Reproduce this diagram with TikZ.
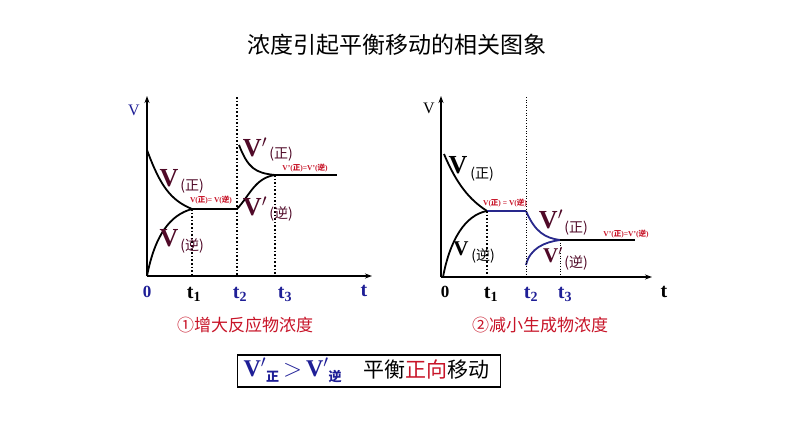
\documentclass[tikz,border=0pt]{standalone}
\usepackage{fontspec}
\setmainfont{Liberation Serif}
\newfontfamily\cjk{Noto Sans CJK SC}
\usetikzlibrary{arrows.meta}
\definecolor{mar}{RGB}{80,10,40}
\definecolor{nv}{RGB}{30,30,150}
\definecolor{rd}{RGB}{200,20,40}
\definecolor{bc}{RGB}{40,40,140}
\newcommand{\zh}[1]{{\cjk #1}}
\tikzset{ax/.style={line width=1.6pt,-{Stealth[length=7pt,width=5pt]}},
 cv/.style={line width=1.8pt},
 dt/.style={line width=1.6pt,dotted},
 dtt/.style={line width=0.6pt,dotted},
 tl/.style={font=\fontsize{20}{20}\selectfont\bfseries},
 bigv/.style={text=mar,font=\fontsize{26}{26}\selectfont\bfseries},
 sub/.style={text=mar,font=\fontsize{14}{14}\selectfont\cjk},
 sm/.style={text=rd,inner sep=0pt,font=\fontsize{7.5}{7.5}\selectfont\bfseries}}
\begin{document}
\begin{tikzpicture}[x=1pt,y=-1pt]
\useasboundingbox[fill=white](0,0) rectangle (794,447);
\node[font=\fontsize{23}{23}\selectfont\cjk] (title) at (397,45) {浓度引起平衡移动的相关图象};
% left graph
\coordinate (lo) at (147,276);
\coordinate (ly) at (147,96);
\coordinate (lx) at (372,276);
\draw[ax] (lo) -- (ly);
\draw[ax] (lo) -- (lx);
\coordinate (a1) at (192,209); \coordinate (a2) at (237,209);
\coordinate (a3) at (275,175); \coordinate (a4) at (337,175);
\coordinate (lb1) at (192,276); \coordinate (lb2) at (237,276); \coordinate (lb3) at (275,276);
\coordinate (lt2) at (237,97);
\draw[cv] (147,150) .. controls (160,185) and (170,200) .. (a1);
\draw[cv] (147,276) .. controls (155,235) and (170,215) .. (a1);
\draw[cv] (a1) -- (a2);
\draw[cv] (239,145) .. controls (248,168) and (255,173) .. (a3);
\draw[cv] (a2) .. controls (250,195) and (255,178) .. (a3);
\draw[cv] (a3) -- (a4);
\draw[dt] (a1) -- (lb1);
\draw[dt] (lt2) -- (lb2);
\draw[dt] (a3) -- (lb3);
\node[font=\fontsize{16}{16}\selectfont,text=nv] (lv) at (134,110) {V};
\node[tl,text=nv,font=\fontsize{17}{17}\selectfont\bfseries] (l0) at (147,292) {0};
\node[tl] (l1) at (194,294) {t\textsubscript{1}};
\node[tl,text=nv] (l2) at (240,294) {t\textsubscript{2}};
\node[tl,text=nv] (l3) at (285,294) {t\textsubscript{3}};
\node[tl,text=nv] (lt) at (364,291) {t};
\node[bigv] (v1) at (169,178) {V}; \node[sub] (v1s) at (192,186) {(正)};
\node[bigv] (v2) at (169,238) {V}; \node[sub] (v2s) at (192,246) {(逆)};
\node[sm] (e1) at (211,200) {V(\zh{正})= V(\zh{逆})};
\node[bigv] (v3) at (255,147) {V$'$}; \node[sub] (v3s) at (281,154) {(正)};
\node[bigv] (v4) at (255,206) {V$'$}; \node[sub] (v4s) at (281,214) {(逆)};
\node[sm] (e2) at (305,168) {V'(\zh{正})=V'(\zh{逆})};
\node[text=rd,font=\fontsize{17}{17}\selectfont\cjk] (c1) at (245,325) {①增大反应物浓度};
% right graph
\coordinate (ro) at (441,277);
\coordinate (ry) at (441,96);
\coordinate (rx) at (652,277);
\draw[ax] (ro) -- (ry);
\draw[ax] (ro) -- (rx);
\coordinate (b1) at (487,211); \coordinate (b2) at (526,211);
\coordinate (b3) at (560,240); \coordinate (b4) at (635,240);
\coordinate (rb1) at (487,277); \coordinate (rb2) at (526,277); \coordinate (rb3) at (560,277);
\coordinate (rt2) at (526,97);
\draw[cv] (444,154) .. controls (457,185) and (470,200) .. (b1);
\draw[cv] (443,277) .. controls (450,240) and (465,215) .. (b1);
\draw[cv,bc] (b1) -- (b2);
\draw[cv,bc] (b2) .. controls (535,232) and (545,238) .. (b3);
\draw[cv,bc] (526,265) .. controls (530,248) and (545,242) .. (b3);
\draw[cv] (b3) -- (b4);
\draw[dt] (b1) -- (rb1);
\draw[dtt] (rt2) -- (rb2);
\draw[dtt] (b3) -- (rb3);
\node[font=\fontsize{16}{16}\selectfont] (rv) at (429,108) {V};
\node[tl,font=\fontsize{17}{17}\selectfont\bfseries] (r0) at (445,292) {0};
\node[tl] (r1) at (491,294) {t\textsubscript{1}};
\node[tl,text=nv] (r2) at (531,294) {t\textsubscript{2}};
\node[tl,text=nv] (r3) at (565,294) {t\textsubscript{3}};
\node[tl] (rt) at (664,292) {t};
\node[bigv,text=black] (w1) at (458,165) {V}; \node[sub,text=black] (w1s) at (482,174) {(正)};
\node[bigv,text=black,font=\fontsize{21}{21}\selectfont\bfseries] (w2) at (461,249) {V}; \node[sub,text=black] (w2s) at (483,256) {(逆)};
\node[sm] (f1) at (505,203) {V(\zh{正}) = V(\zh{逆})};
\node[bigv] (w3) at (551,219) {V$'$}; \node[sub] (w3s) at (576,228) {(正)};
\node[bigv,font=\fontsize{21}{21}\selectfont\bfseries] (w4) at (553,255) {V$'$}; \node[sub] (w4s) at (576,263) {(逆)};
\node[sm] (f2) at (626,234) {V'(\zh{正})=V'(\zh{逆})};
\node[text=rd,font=\fontsize{17}{17}\selectfont\cjk] (c2) at (540,325) {②减小生成物浓度};
% box
\node[draw,line width=1.2pt,minimum width=263pt,minimum height=32pt,inner sep=0pt] (box) at (369,371) {};
\node[anchor=west,text=nv,font=\fontsize{24}{24}\selectfont\bfseries] (ineq) at (240,370) {V$'$\raisebox{-5pt}{\fontsize{13}{13}\selectfont\cjk 正}\,$>$\,V$'$\raisebox{-5pt}{\fontsize{13}{13}\selectfont\cjk 逆}};
\node[anchor=west,font=\fontsize{21}{21}\selectfont\cjk] (eq) at (360,370) {平衡\textcolor{rd}{正向}移动};
\end{tikzpicture}
\end{document}
